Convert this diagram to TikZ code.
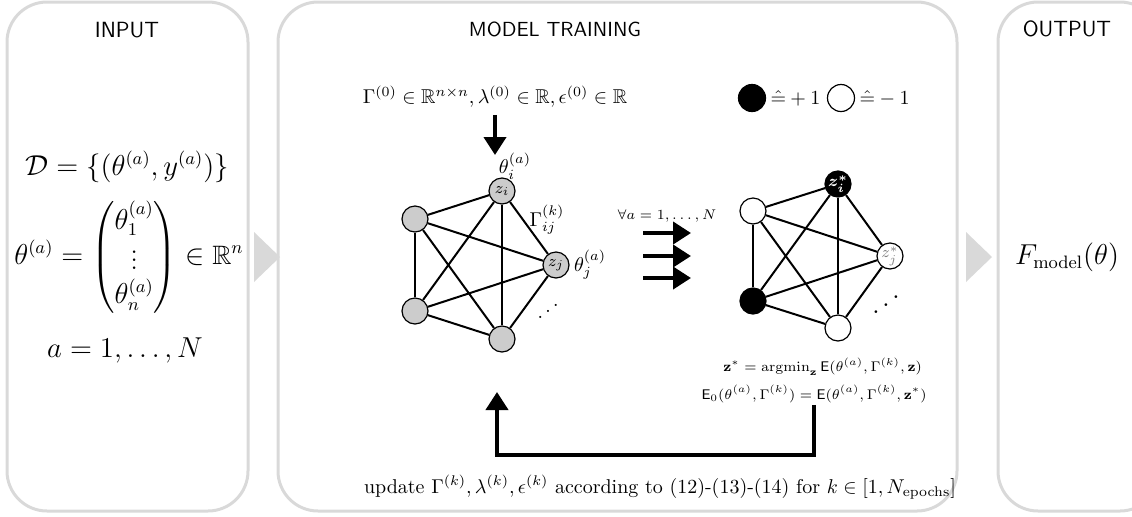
\documentclass[tikz,border=0pt]{standalone}
\usepackage{amsmath,amssymb}
\usepackage{tikz}
\usetikzlibrary{arrows.meta,positioning,calc}
\definecolor{panelGray}{RGB}{217,217,217}
\definecolor{spinGray}{RGB}{204,204,204}

\begin{document}
\begin{tikzpicture}[x=0.5pt,y=-0.5pt,
    panel/.style={draw=panelGray, line width=1.5pt, rounded corners=20pt},
    paneltitle/.style={font=\sffamily\fontsize{11}{13}\selectfont},
    bigmath/.style={font=\fontsize{13.3}{16}\selectfont},
    spin/.style={circle, draw, line width=0.6pt, minimum size=13pt, inner sep=0pt, font=\footnotesize},
    coupling/.style={line width=1pt},
    fat/.style={line width=2pt, -{Triangle[length=9pt,width=11pt]}}]
        \useasboundingbox (0,0) rectangle (1132,516);
        % Panels
        \draw[panel] (7,2) rectangle (248,511);
        \draw[panel] (278,2) rectangle (957,511);
        \draw[panel] (998,2) rectangle (1160,511);
        \fill[panelGray] (254,232) -- (254,282) -- (280,257) -- cycle;
        \fill[panelGray] (966,232) -- (966,282) -- (992,257) -- cycle;
        \node[paneltitle] (tin) at (127,30) {INPUT};
        \node[paneltitle, font=\sffamily\fontsize{10.2}{12}\selectfont] (ttrain) at (555,29) {MODEL TRAINING};
        \node[paneltitle] (tout) at (1067,29) {OUTPUT};
        % Input data
        \node[bigmath] (data) at (127,167) {$\mathcal{D}=\{(\theta^{(a)},y^{(a)})\}$};
        \node[bigmath] (vec) at (129,257)
          {$\theta^{(a)}=\begin{pmatrix}\theta_1^{(a)}\\ \vdots\\ \theta_n^{(a)}\end{pmatrix}\in\mathbb{R}^n$};
        \node[bigmath] (range) at (125,350) {$a=1,\dots,N$};
        % Output
        \node[bigmath] (fmodel) at (1067,257) {$F_{\mathrm{model}}(\theta)$};
        % Initial parameters
        \node (init) at (495,97)
          {$\Gamma^{(0)}\in\mathbb{R}^{n\times n}, \lambda^{(0)}\in\mathbb{R}, \epsilon^{(0)}\in\mathbb{R}$};
        \coordinate (inittip) at (495,155);
        \draw[fat] (init) -- (inittip);
        % Left graph (spins before minimisation)
        \node[spin, fill=spinGray] (gl1) at (502,191) {$z_i$};
        \node[spin, fill=spinGray] (gl2) at (556,265) {$z_j$};
        \node[spin, fill=spinGray] (gl3) at (502,339) {};
        \node[spin, fill=spinGray] (gl4) at (415,311) {};
        \node[spin, fill=spinGray] (gl5) at (415,219) {};
        \foreach \u/\v in {1/2,1/3,1/4,1/5,2/3,2/4,2/5,3/4,3/5,4/5}
          \draw[coupling] (gl\u) -- (gl\v);
        \node (thi) at (515,166) {$\theta_i^{(a)}$};
        \node (gij) at (547,220) {$\Gamma_{ij}^{(k)}$};
        \node[right=1pt of gl2, inner sep=1pt] (thj) {$\theta_j^{(a)}$};
        \node[xscale=-1] (dotsl) at (548,305) {$\ddots$};
        % Minimisation for every sample
        \node[font=\scriptsize] (forall) at (667,216) {$\forall a=1,\dots,N$};
        \foreach \i/\yy in {1/233,2/256,3/278} {
          \coordinate (fa\i) at (643,\yy);
          \coordinate (fb\i) at (691,\yy);
          \draw[fat] (fa\i) -- (fb\i);
        }
        % Legend
        \node[spin, fill=black, minimum size=13.5pt] (legp) at (752,98) {};
        \node[right=1pt of legp, inner sep=1pt] (legptxt) {$\hat{=}+1$};
        \node[spin, minimum size=13.5pt] (legm) at (841,98) {};
        \node[right=1pt of legm, inner sep=1pt] (legmtxt) {$\hat{=}-1$};
        % Right graph (optimal spins)
        \node[spin, fill=black, text=white] (gr1) at (838,184) {$\boldsymbol{z_i^*}$};
        \node[spin, fill=white, text=gray] (gr2) at (890,256) {$z_j^*$};
        \node[spin, fill=white] (gr3) at (838,328) {};
        \node[spin, fill=black] (gr4) at (753,301) {};
        \node[spin, fill=white] (gr5) at (753,211) {};
        \foreach \u/\v in {1/2,1/3,1/4,1/5,2/3,2/4,2/5,3/4,3/5,4/5}
          \draw[coupling] (gr\u) -- (gr\v);
        \node[xscale=-1, scale=1.3] (dotsr) at (886,297) {$\ddots$};
        % Energies
        \node[font=\scriptsize, anchor=east] (zstar) at (929,367)
          {$\mathbf{z}^*=\operatorname{argmin}_{\mathbf{z}}\mathsf{E}(\theta^{(a)},\Gamma^{(k)},\mathbf{z})$};
        \node[font=\scriptsize, anchor=east, inner sep=1pt] (ezero) at (929,394)
          {$\mathsf{E}_0(\theta^{(a)},\Gamma^{(k)})=\mathsf{E}(\theta^{(a)},\Gamma^{(k)},\mathbf{z}^*)$};
        % Feedback loop
        \coordinate (fbtip) at (497,392);
        \draw[fat] (ezero.south) -- ++(0,50) -| (fbtip);
        \node (update) at (660,487)
          {update $\Gamma^{(k)},\lambda^{(k)},\epsilon^{(k)}$ according to (12)\textsf{-}(13)\textsf{-}(14) for $k\in[1,N_{\mathrm{epochs}}]$};
      \end{tikzpicture}
\end{document}
